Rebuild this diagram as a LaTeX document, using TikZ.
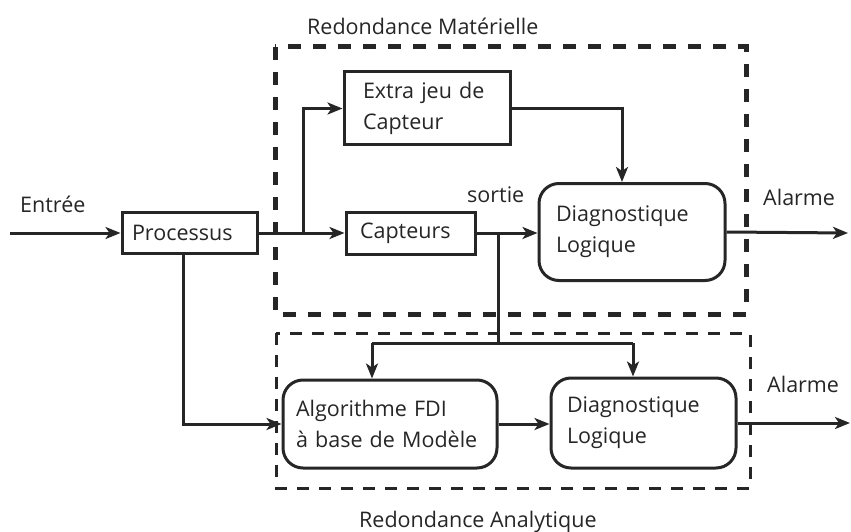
\documentclass[tikz,border=0pt]{standalone}
\usepackage{fontspec}
\setmainfont{Open Sans}
\usetikzlibrary{arrows.meta}
\begin{document}
\begin{tikzpicture}[x=1pt,y=-1pt,
  every node/.style={font=\fontsize{21.5}{31}\selectfont, text=black!85},
  lbl/.style={anchor=base west, inner sep=0pt},
  sqbox/.style={draw, line width=3pt, rectangle, align=left, inner ysep=0pt},
  rbox/.style={draw, line width=3pt, rectangle, rounded corners=20pt, align=left, inner ysep=0pt},
  conn/.style={line width=3pt, black!85},
  arr/.style={conn, -{Stealth[length=15pt,width=12pt,inset=4pt]}},
  thickdash/.style={line width=5pt, black!85, dash pattern=on 13pt off 12pt},
  thindash/.style={line width=3pt, black!85, dash pattern=on 12pt off 10pt},
  black!85]
\useasboundingbox (0,0) rectangle (851,532);

% dashed frames
\draw[thickdash] (275,47) rectangle (746,314);
\draw[thindash] (276,333) rectangle (750,488);

% boxes
\node[sqbox, text width=115pt, inner xsep=10pt, minimum height=41pt] (proc) at (189.5,233) {Processus};
\node[sqbox, text width=128pt, inner xsep=19pt, minimum height=73pt] (extra) at (427,108.5) {Extra jeu de\\Capteur};
\node[sqbox, text width=101pt, inner xsep=14pt, minimum height=42pt] (capt) at (410.5,233) {Capteurs};
\node[rbox, text width=152pt, inner xsep=17pt, minimum height=97pt] (diag1) at (632,232) {Diagnostique\\Logique};
\node[rbox, text width=188pt, inner xsep=13pt, minimum height=88pt] (algo) at (390,424) {Algorithme FDI\\à base de Modèle};
\node[rbox, text width=153pt, inner xsep=16pt, minimum height=90pt] (diag2) at (643.5,423) {Diagnostique\\Logique};

% labels
\node[lbl] (lin) at (20,212) {Entrée};
\node[lbl] (lsortie) at (467,202) {sortie};
\node[lbl] (lal1) at (763,205) {Alarme};
\node[lbl] (lal2) at (767,392) {Alarme};
\node[lbl] (lrm) at (307,35) {Redondance Matérielle};
\node[lbl] (lra) at (359,527) {Redondance Analytique};

% coordinates
\coordinate (in) at (10,233);
\coordinate (b1) at (303,233);
\coordinate (b2) at (498,233);
\coordinate (h1) at (372,343);
\coordinate (h2) at (633,343);
\coordinate (out1) at (848,233);
\coordinate (out2) at (850,423);
\coordinate (pd) at (183,233);

% connectors
\draw[arr] (in) -- (proc.west);
\draw[arr] (proc.east) -- (capt.west);
\draw[arr] (b1) |- (extra.west);
\draw[arr] (extra.east) -| ([xshift=-10pt]diag1.north);
\draw[arr] (capt.east) -- (capt.east -| diag1.west);
\draw[conn] (b2) -- (b2 |- h1);
\draw[conn] (h1) -- (h2);
\draw[arr] (h1) -- (h1 |- algo.north);
\draw[arr] (h2) -- (h2 |- diag2.north);
\draw[arr] (diag1.east) -- (out1);
\draw[arr] (pd |- proc.south) |- (algo.west);
\draw[arr] (algo.east) -- (algo.east -| diag2.west);
\draw[arr] (diag2.east) -- (out2);
\end{tikzpicture}
\end{document}
